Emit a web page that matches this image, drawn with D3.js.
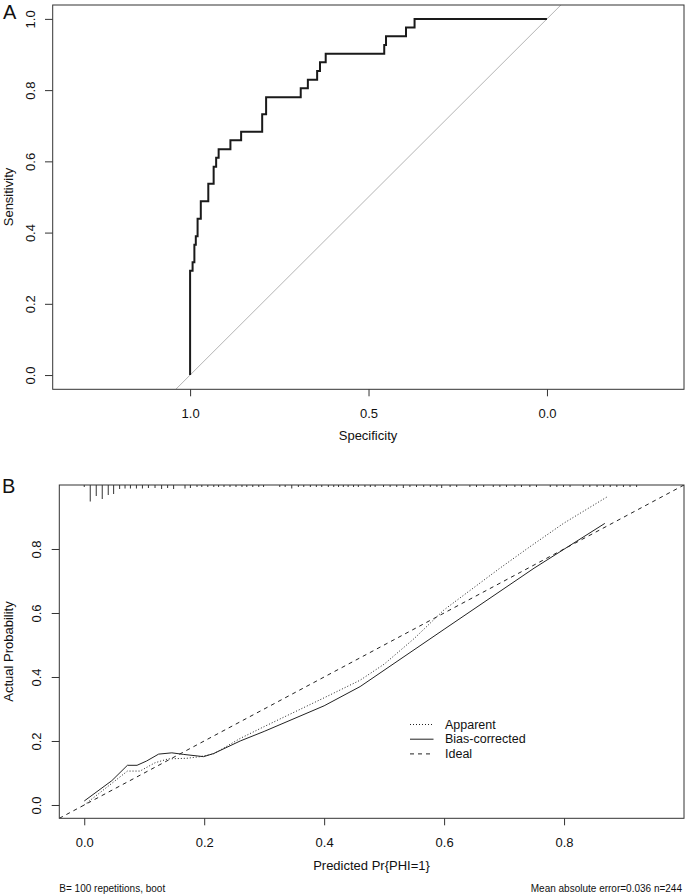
<!DOCTYPE html>
<html>
  <head>
    <meta charset="UTF-8">
    <title>ROC and calibration</title>
    <script src="https://d3js.org/d3.v7.min.js"></script>
    <style>
    body { margin: 0; background: #fff; }
    svg text { font-family: "Liberation Sans", Arial, sans-serif; fill: #111; }
    .tick line { stroke: #333; }
    .tick text { font-size: 13px; }
    </style>
  </head>
  <body>
  <script type="text/javascript">

  // panel A: ROC curve (specificity, sensitivity at each step)
  var rocSpec = [1.000, 1.000, 0.993, 0.988, 0.984, 0.979, 0.970, 0.949, 0.934, 0.927, 0.920,
                 0.887, 0.857, 0.798, 0.787, 0.690, 0.670, 0.644, 0.636, 0.620, 0.456, 0.451,
                 0.395, 0.371, 0.000]
  var rocSens = [0.000, 0.293, 0.317, 0.366, 0.390, 0.439, 0.488, 0.537, 0.585, 0.610, 0.634,
                 0.659, 0.683, 0.732, 0.780, 0.805, 0.829, 0.854, 0.878, 0.902, 0.927, 0.951,
                 0.976, 1.000, 1.000]
  var ticksA_x = [1.0, 0.5, 0.0]
  var ticksA_y = [0.0, 0.2, 0.4, 0.6, 0.8, 1.0]

  // panel B: calibration
  var appX = [0.000, 0.072, 0.093, 0.118, 0.140, 0.171, 0.193, 0.216, 0.260, 0.300, 0.400,
              0.460, 0.500, 0.550, 0.600, 0.693, 0.743, 0.799, 0.871]
  var appY = [0.000, 0.106, 0.106, 0.132, 0.144, 0.146, 0.151, 0.160, 0.208, 0.245, 0.335,
              0.390, 0.440, 0.520, 0.610, 0.740, 0.807, 0.880, 0.962]
  var bcX = [0.000, 0.046, 0.072, 0.088, 0.104, 0.124, 0.146, 0.166, 0.199, 0.216, 0.260,
             0.300, 0.400, 0.460, 0.600, 0.750, 0.868]
  var bcY = [0.0125, 0.076, 0.124, 0.124, 0.1375, 0.159, 0.163, 0.158, 0.151, 0.161, 0.200,
             0.230, 0.310, 0.370, 0.549, 0.740, 0.880]
  var rugX = [0.000, 0.010, 0.020, 0.030, 0.040, 0.049, 0.059, 0.068, 0.077, 0.087, 0.097,
              0.107, 0.118, 0.129, 0.139, 0.149, 0.168, 0.177, 0.188, 0.196, 0.206, 0.216,
              0.224, 0.233, 0.243, 0.253, 0.263, 0.271, 0.281, 0.291, 0.299, 0.326, 0.335,
              0.346, 0.357, 0.366, 0.377, 0.387, 0.396, 0.407, 0.416, 0.424, 0.432, 0.440,
              0.449, 0.457, 0.468, 0.477, 0.485, 0.499, 0.510, 0.521, 0.532, 0.543, 0.554,
              0.566, 0.577, 0.588, 0.596, 0.610, 0.621, 0.643, 0.654, 0.666, 0.682, 0.693,
              0.704, 0.718, 0.729, 0.743, 0.754, 0.777, 0.788, 0.799, 0.810, 0.832, 0.843,
              0.855, 0.866, 0.877, 0.888, 0.899, 0.910, 0.921]
  var rugLen = [2, 16.5, 11, 14, 10, 9, 4, 3.5, 3.5, 3.5, 3.5,
                3, 3, 4, 3, 4, 3.5, 3, 2, 2, 2, 2,
                2, 2, 2, 2, 2, 2, 2, 2, 2, 2, 2,
                3.5, 2, 2, 2, 2, 2, 2, 2, 2, 2, 2,
                2, 2, 2, 2, 2, 2, 2, 2, 3, 2, 2,
                2, 2, 2, 3, 2, 2, 2, 2, 2, 2, 2,
                2, 2, 2, 2, 2, 2, 2, 2, 2, 2, 2,
                2, 2, 2, 2, 2, 2, 2]
  var ticksB = [0.0, 0.2, 0.4, 0.6, 0.8]
  var legendNames = ['Apparent', 'Bias-corrected', 'Ideal']
  var legendDash = ['1,2', null, '4,4']

  var svg = d3.select('body').append('svg')
    .attr('width', 685)
    .attr('height', 896)

  var fmt = d3.format('.1f')

  // ---------- panel A ----------
  var xA = d3.scaleLinear().domain([1.385, -0.384]).range([52.7, 684])
  var yA = d3.scaleLinear().domain([-0.04, 1.039]).range([389.3, 5])

  svg.append('clipPath').attr('id', 'clipA').append('rect')
    .attr('x', xA.range()[0]).attr('y', yA.range()[1])
    .attr('width', xA.range()[1] - xA.range()[0]).attr('height', yA.range()[0] - yA.range()[1])

  var gA = svg.append('g')

  gA.append('line')
    .attr('clip-path', 'url(#clipA)')
    .attr('x1', xA(1.04)).attr('y1', yA(-0.04))
    .attr('x2', xA(-0.039)).attr('y2', yA(1.039))
    .attr('stroke', '#b4b4b4').attr('stroke-width', 1)

  var rocLine = d3.line()
    .x(d => xA(d[0])).y(d => yA(d[1]))
    .curve(d3.curveStepAfter)

  gA.append('path')
    .datum(rocSpec.map((s, i) => [s, rocSens[i]]))
    .attr('d', rocLine)
    .attr('fill', 'none').attr('stroke', '#1a1a1a').attr('stroke-width', 2)

  gA.append('g')
    .attr('transform', 'translate(0,' + yA.range()[0] + ')')
    .call(d3.axisBottom(xA).tickValues(ticksA_x).tickFormat(fmt).tickSize(7).tickSizeOuter(0))
    .call(g => g.select('.domain').remove())
    .call(g => g.selectAll('.tick text').attr('y', 28.7).attr('dy', 0))

  gA.append('g')
    .attr('transform', 'translate(' + xA.range()[0] + ',0)')
    .call(d3.axisLeft(yA).tickValues(ticksA_y).tickFormat(fmt).tickSize(7.7).tickSizeOuter(0))
    .call(g => g.select('.domain').remove())
    .call(g => g.selectAll('.tick text')
      .attr('x', 0).attr('dy', 0)
      .attr('text-anchor', 'middle')
      .attr('transform', 'translate(-18,0) rotate(-90)'))

  gA.append('rect')
    .attr('x', xA.range()[0]).attr('y', yA.range()[1])
    .attr('width', xA.range()[1] - xA.range()[0]).attr('height', yA.range()[0] - yA.range()[1])
    .attr('fill', 'none').attr('stroke', '#333').attr('stroke-width', 1)

  gA.append('text').attr('x', 368).attr('y', 439.5)
    .attr('text-anchor', 'middle').style('font-size', '13px').text('Specificity')
  gA.append('text').attr('transform', 'translate(13,197) rotate(-90)')
    .attr('text-anchor', 'middle').style('font-size', '13px').text('Sensitivity')
  svg.append('text').attr('x', 3).attr('y', 19).style('font-size', '20px').text('A')

  // ---------- panel B ----------
  var xB = d3.scaleLinear().domain([-0.0416, 1.0]).range([59.3, 684])
  var yB = d3.scaleLinear().domain([-0.0416, 1.0]).range([818.3, 485])

  svg.append('clipPath').attr('id', 'clipB').append('rect')
    .attr('x', xB.range()[0]).attr('y', yB.range()[1])
    .attr('width', xB.range()[1] - xB.range()[0]).attr('height', yB.range()[0] - yB.range()[1])

  var gB = svg.append('g')

  var calLine = d3.line().x(d => xB(d[0])).y(d => yB(d[1]))

  gB.append('path')
    .datum(xB.domain().map(v => [v, v]))
    .attr('clip-path', 'url(#clipB)')
    .attr('d', calLine)
    .attr('fill', 'none').attr('stroke', '#222').attr('stroke-width', 1)
    .attr('stroke-dasharray', '4,4')

  gB.append('path')
    .datum(appX.map((v, i) => [v, appY[i]]))
    .attr('d', calLine)
    .attr('fill', 'none').attr('stroke', '#222').attr('stroke-width', 1)
    .attr('stroke-dasharray', '1,2')

  gB.append('path')
    .datum(bcX.map((v, i) => [v, bcY[i]]))
    .attr('d', calLine)
    .attr('fill', 'none').attr('stroke', '#222').attr('stroke-width', 1)

  gB.append('g').selectAll('line')
    .data(rugX)
    .join('line')
    .attr('x1', d => xB(d)).attr('x2', d => xB(d))
    .attr('y1', yB.range()[1]).attr('y2', (d, i) => yB.range()[1] + rugLen[i])
    .attr('stroke', '#333').attr('stroke-width', 1)

  gB.append('g')
    .attr('transform', 'translate(0,' + yB.range()[0] + ')')
    .call(d3.axisBottom(xB).tickValues(ticksB).tickFormat(fmt).tickSize(7).tickSizeOuter(0))
    .call(g => g.select('.domain').remove())
    .call(g => g.selectAll('.tick text').attr('y', 28.7).attr('dy', 0))

  gB.append('g')
    .attr('transform', 'translate(' + xB.range()[0] + ',0)')
    .call(d3.axisLeft(yB).tickValues(ticksB).tickFormat(fmt).tickSize(7.6).tickSizeOuter(0))
    .call(g => g.select('.domain').remove())
    .call(g => g.selectAll('.tick text')
      .attr('x', 0).attr('dy', 0)
      .attr('text-anchor', 'middle')
      .attr('transform', 'translate(-18,0) rotate(-90)'))

  gB.append('rect')
    .attr('x', xB.range()[0]).attr('y', yB.range()[1])
    .attr('width', xB.range()[1] - xB.range()[0]).attr('height', yB.range()[0] - yB.range()[1])
    .attr('fill', 'none').attr('stroke', '#333').attr('stroke-width', 1)

  // legend
  var leg = gB.append('g').selectAll('g')
    .data(legendNames)
    .join('g')
    .attr('transform', (d, i) => 'translate(410,' + (728.5 + i * 14.7) + ')')
  leg.append('line')
    .attr('x1', 0).attr('x2', 23.5).attr('y1', -4).attr('y2', -4)
    .attr('stroke', '#222').attr('stroke-width', 1)
    .attr('stroke-dasharray', (d, i) => legendDash[i])
  leg.append('text').attr('x', 35).attr('y', 0)
    .style('font-size', '12.5px').text(d => d)

  gB.append('text').attr('x', 371.5).attr('y', 869.5)
    .attr('text-anchor', 'middle').style('font-size', '13px').text('Predicted Pr{PHI=1}')
  gB.append('text').attr('transform', 'translate(13,651.5) rotate(-90)')
    .attr('text-anchor', 'middle').style('font-size', '13px').text('Actual Probability')
  gB.append('text').attr('x', 59.3).attr('y', 892)
    .style('font-size', '10px').text('B= 100 repetitions, boot')
  gB.append('text').attr('x', 682).attr('y', 892)
    .attr('text-anchor', 'end').style('font-size', '10px').text('Mean absolute error=0.036 n=244')
  svg.append('text').attr('x', 2).attr('y', 492.7).style('font-size', '20px').text('B')

  </script>
  </body>
</html>
